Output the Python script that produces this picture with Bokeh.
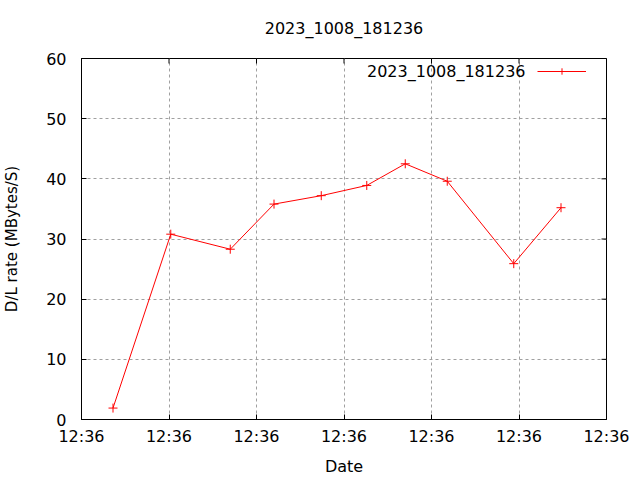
import math
import pandas as pd
from bokeh.plotting import figure
from bokeh.models import FixedTicker, DatetimeTickFormatter, Legend, LegendItem, Label, Range1d
from bokeh.embed import file_html
from bokeh.resources import INLINE

title_text = "2023_1008_181236"
series_name = "2023_1008_181236"
x_label = "Date"
y_label = "D/L rate (MBytes/S)"

times = ["2023-10-08 12:36:21.8", "2023-10-08 12:36:25.1", "2023-10-08 12:36:28.5",
         "2023-10-08 12:36:31.0", "2023-10-08 12:36:33.7", "2023-10-08 12:36:36.3",
         "2023-10-08 12:36:38.5", "2023-10-08 12:36:40.9", "2023-10-08 12:36:44.7",
         "2023-10-08 12:36:47.4"]
rates = [1.9, 30.8, 28.3, 35.8, 37.2, 38.9, 42.5, 39.6, 25.9, 35.2]

x_ticks = ["2023-10-08 12:36:20", "2023-10-08 12:36:25", "2023-10-08 12:36:30",
           "2023-10-08 12:36:35", "2023-10-08 12:36:40", "2023-10-08 12:36:45",
           "2023-10-08 12:36:50"]
y_ticks = [0, 10, 20, 30, 40, 50, 60]

FONT = "DejaVu Sans"

x = pd.to_datetime(times)
epoch = pd.Timestamp("1970-01-01")
tick_ms = [float((pd.Timestamp(t) - epoch) / pd.Timedelta("1ms")) for t in x_ticks]

p = figure(width=640, height=480, x_axis_type="datetime", output_backend="svg",
           toolbar_location=None, min_border_left=80, min_border_right=34,
           min_border_top=58, min_border_bottom=61)
p.x_range = Range1d(tick_ms[0], tick_ms[-1])
p.y_range = Range1d(y_ticks[0], y_ticks[-1])

# trailing line break lifts the title higher above the frame
p.title.text = title_text + "\n"
p.title.align = "center"
p.title.text_font = FONT
p.title.text_font_size = "16px"
p.title.text_font_style = "normal"
p.title.text_color = "black"
p.title.standoff = 4

p.outline_line_color = "black"
p.outline_line_width = 1
p.background_fill_color = "white"
p.border_fill_color = "white"

fmt = DatetimeTickFormatter(microseconds="%H:%M", milliseconds="%H:%M", seconds="%H:%M",
                            minsec="%H:%M", minutes="%H:%M", hourmin="%H:%M", hours="%H:%M",
                            days="%H:%M", months="%H:%M", years="%H:%M")
xt = FixedTicker(ticks=tick_ms)
yt = FixedTicker(ticks=y_ticks)

xa = p.xaxis[0]
xa.ticker = xt
xa.formatter = fmt
ya = p.yaxis[0]
ya.ticker = yt

for ax in (xa, ya):
    ax.major_tick_in = 5
    ax.major_tick_out = 0
    ax.minor_tick_line_color = None
    ax.axis_line_color = "black"
    ax.major_tick_line_color = "black"
    ax.major_label_text_font = FONT
    ax.major_label_text_font_size = "16px"
    ax.major_label_text_color = "black"
    ax.axis_label_text_font = FONT
    ax.axis_label_text_font_size = "16px"
    ax.axis_label_text_font_style = "normal"
    ax.axis_label_text_color = "black"

xa.axis_label = x_label
xa.major_label_standoff = 7
xa.axis_label_standoff = 8
ya.axis_label = y_label
ya.major_label_standoff = 15
ya.axis_label_standoff = 22
ya.axis_label_text_font_size = "15px"

for g in (p.xgrid[0], p.ygrid[0]):
    g.grid_line_color = "#a0a0a0"
    g.grid_line_dash = "3 3"
    g.grid_line_width = 1
p.xgrid[0].ticker = xt
p.ygrid[0].ticker = yt

# mirrored inward ticks on the top and right borders (half of each dash is clipped by the frame)
p.scatter(tick_ms, [y_ticks[-1]] * len(tick_ms), marker="dash", angle=math.pi / 2, size=10,
          line_color="black", line_width=1)
p.scatter([tick_ms[-1]] * len(y_ticks), y_ticks, marker="dash", size=10,
          line_color="black", line_width=1)

ln = p.line(x, rates, line_color="red", line_width=1)
sc = p.scatter(x, rates, marker="cross", size=9, line_color="red", line_width=1)

legend = Legend(items=[LegendItem(label=" ", renderers=[ln, sc])], location=(456, 340),
                padding=0, margin=0, spacing=0, glyph_width=49, glyph_height=16,
                label_standoff=0, label_width=0, border_line_color=None,
                background_fill_alpha=0, label_text_font_size="16px")
p.add_layout(legend, "center")
p.add_layout(Label(x=444, y=348, x_units="screen", y_units="screen", text=series_name,
                   text_align="right", text_baseline="middle", text_font=FONT,
                   text_font_size="16px", text_color="black"))

open("out.html", "w").write(file_html(p, INLINE))
